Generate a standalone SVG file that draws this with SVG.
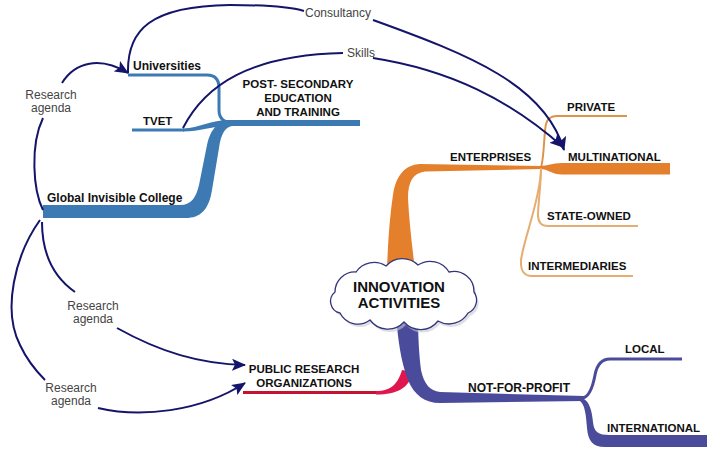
<svg xmlns="http://www.w3.org/2000/svg" width="708" height="453" viewBox="0 0 708 453">
<defs>
<marker id="ah" viewBox="0 0 14 12" markerWidth="14" markerHeight="12" refX="13" refY="6" orient="auto" markerUnits="userSpaceOnUse">
<path d="M0 0 L14 6 L0 12 L3 6 Z" fill="#14146b"/>
</marker>
</defs>
<style>
.lbl{font-family:"Liberation Sans",Arial,sans-serif;font-weight:bold;font-size:11.5px;fill:#111}
.big{font-family:"Liberation Sans",Arial,sans-serif;font-weight:bold;font-size:15px;fill:#111;text-anchor:middle}
.rel{font-family:"Liberation Sans",Arial,sans-serif;font-size:12px;fill:#444}
.mid{text-anchor:middle}
.con{fill:none;stroke:#14146b;stroke-width:2}
.blue{fill:#3d7ab3}
.blueS{fill:none;stroke:#3d7ab3;stroke-width:3}
.orng{fill:#e47f2c}
.purp{fill:#4b4b9b}
</style>
<rect width="708" height="453" fill="#fff"/>

<g id="post-secondary">
<path class="blueS" d="M128 75 H207 Q219 75 219 88 V110 Q219 122 232 123"/>
<rect class="blue" x="226" y="120" width="134" height="6"/>
<text class="lbl mid" x="298" y="88" font-size="12">POST- SECONDARY</text>
<text class="lbl mid" x="298" y="102">EDUCATION</text>
<text class="lbl mid" x="298" y="116">AND TRAINING</text>
</g>
<g id="universities">
<text class="lbl" x="133" y="70" style="font-size:12px">Universities</text>
</g>
<g id="tvet">
<path class="blueS" d="M132 130 H184"/>
<path class="blue" d="M183 128.5 C200 128 210 120 230 120 L230 126 C212 126 200 131.5 183 131.5 Z"/>
<text class="lbl" x="143" y="125">TVET</text>
</g>
<g id="global-invisible-college">
<path class="blue" d="M43 205 H180 C192 205 196 197 199 185 L207 145 C211 128 218 121 232 120 L232 126 C225 127 221 134 219 148 L212 190 C209 210 200 218 186 218 H43 Z"/>
<text class="lbl" x="47" y="202" style="font-size:12px">Global Invisible College</text>
</g>

<g id="enterprises">
<path class="orng" d="M387 270 C388 240 390 215 393 195 C396 175 405 165 420 164 L541 166 L541 169 L425 171.5 C413 173 408 182 408 198 C409 220 412 245 415 270 Z"/>
<text class="lbl" x="450" y="161">ENTERPRISES</text>
</g>
<g id="private">
<path fill="none" stroke="#dd944a" stroke-width="2" d="M541 167 C544 160 544 132 546 124 Q548 116 557 116 H627"/>
<text class="lbl" x="567" y="111">PRIVATE</text>
</g>
<g id="multinational">
<path class="orng" d="M540 166 C548 166 552 163 562 163 H670 V174.5 H562 C552 174.5 548 169 540 169 Z"/>
<text class="lbl" x="568" y="161">MULTINATIONAL</text>
</g>
<g id="state-owned">
<path fill="none" stroke="#e6ad72" stroke-width="2" d="M541 168 C541 185 538 205 538 215 Q538 226 548 226 H638"/>
<text class="lbl" x="547" y="220">STATE-OWNED</text>
</g>
<g id="intermediaries">
<path fill="none" stroke="#e6ad72" stroke-width="2" d="M541 170 C540 200 524 238 521 260 Q520 276 532 276 H633"/>
<text class="lbl" x="528" y="270">INTERMEDIARIES</text>
</g>

<g id="public-research-organizations">
<rect x="243" y="391" width="137" height="3" fill="#c41230"/>
<path fill="#e0174f" d="M376 391 C392 391 398 383 402 370 L413 372 C409 388 398 394.5 376 394.5 Z"/>
<text class="lbl mid" x="304" y="373">PUBLIC RESEARCH</text>
<text class="lbl mid" x="304" y="387">ORGANIZATIONS</text>
</g>

<g id="not-for-profit">
<path class="purp" d="M396 316 C398 340 401 362 408 380 C414 395 425 403 440 403 L584 401 L584 396 L440 392 C430 391 424 384 421 370 C419 355 418 335 418 316 Z"/>
<text class="lbl" x="468" y="392" style="font-size:12px">NOT-FOR-PROFIT</text>
</g>
<g id="local">
<path fill="none" stroke="#4b4b9b" stroke-width="3" d="M583 398 C590 396 593 386 595 375 Q598 359 610 359 H682"/>
<text class="lbl" x="625" y="353">LOCAL</text>
</g>
<g id="international">
<path class="purp" d="M582 398 C590 401 592 412 593 422 C594 432 598 435 610 435 H707 V447 H605 C592 447 588 440 587 428 C586 415 585 405 580 401 Z"/>
<text class="lbl" x="607" y="432">INTERNATIONAL</text>
</g>

<g id="innovation-activities">
<path transform="translate(2,3)" fill="#c8c8d4" opacity="0.6" d="M335 292 A20 20 0 0 1 356 272 A22 22 0 0 1 386 266 A22 22 0 0 1 418 265 A22 22 0 0 1 449 272 A20 20 0 0 1 474 292 A14 14 0 0 1 468 313 A22 22 0 0 1 438 321 A22 22 0 0 1 404 322 A22 22 0 0 1 370 320 A20 20 0 0 1 340 313 A12 12 0 0 1 335 292 Z"/>
<path fill="#fff" stroke="#34347a" stroke-width="1.3" d="M335 292 A20 20 0 0 1 356 272 A22 22 0 0 1 386 266 A22 22 0 0 1 418 265 A22 22 0 0 1 449 272 A20 20 0 0 1 474 292 A14 14 0 0 1 468 313 A22 22 0 0 1 438 321 A22 22 0 0 1 404 322 A22 22 0 0 1 370 320 A20 20 0 0 1 340 313 A12 12 0 0 1 335 292 Z"/>
<text class="big" x="399" y="292">INNOVATION</text>
<text class="big" x="399" y="308">ACTIVITIES</text>
</g>

<g id="connectors">
<path class="con" d="M128 73 C127 30 150 6 230 5 C265 5 290 7 304 11"/>
<path class="con" d="M373 20 C470 55 545 85 564 150" marker-end="url(#ah)"/>
<path class="con" d="M183 128 C205 85 250 55 343 53"/>
<path class="con" d="M373 58 C450 70 510 100 563 147" marker-end="url(#ah)"/>
<path class="con" d="M43 210 C33 190 30 145 43 118"/>
<path class="con" d="M62 83 C75 62 100 56 128 73" marker-end="url(#ah)"/>
<path class="con" d="M42 222 C42 255 55 278 75 292"/>
<path class="con" d="M117 328 C160 352 200 364 245 365" marker-end="url(#ah)"/>
<path class="con" d="M40 220 C15 255 2 310 20 345 C27 360 35 370 45 380"/>
<path class="con" d="M98 408 C140 418 200 412 245 383" marker-end="url(#ah)"/>
<text class="rel" x="305" y="17">Consultancy</text>
<text class="rel" x="347" y="57">Skills</text>
<text class="rel mid" x="51" y="99">Research</text>
<text class="rel mid" x="51" y="112">agenda</text>
<text class="rel mid" x="93" y="310">Research</text>
<text class="rel mid" x="93" y="323">agenda</text>
<text class="rel mid" x="71" y="392">Research</text>
<text class="rel mid" x="71" y="405">agenda</text>
</g>
</svg>
